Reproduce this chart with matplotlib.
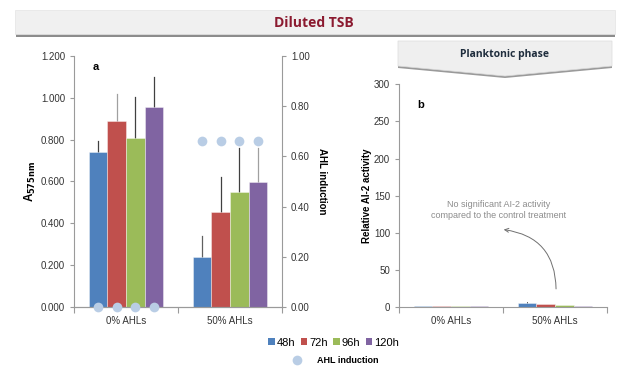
import matplotlib
matplotlib.use("Agg")
import matplotlib.pyplot as plt
from matplotlib.patches import FancyBboxPatch, Polygon
import numpy as np

plt.rcParams.update({
    "font.family": ["Liberation Sans", "DejaVu Sans"],
    "font.size": 7,
    "axes.edgecolor": "#9a9a9a",
    "axes.linewidth": 0.8,
    "xtick.color": "#9a9a9a",
    "ytick.color": "#9a9a9a",
    "xtick.labelcolor": "#333333",
    "ytick.labelcolor": "#333333",
})

# ---- data -------------------------------------------------------------------
groups = ["0% AHLs", "50% AHLs"]
times = ["48h", "72h", "96h", "120h"]
colors = ["#4F81BD", "#C0504D", "#9BBB59", "#8064A2"]

# panel a: biofilm absorbance (A575nm), rows = time, cols = group
a_mean = [[0.739, 0.238],
          [0.890, 0.455],
          [0.806, 0.550],
          [0.954, 0.599]]
a_err = [[0.056, 0.102],
         [0.127, 0.168],
         [0.195, 0.208],
         [0.143, 0.159]]
err_col = [["#404040", "#606060"],
           ["#a0a0a0", "#404040"],
           ["#404040", "#404040"],
           ["#404040", "#a0a0a0"]]
ahl_induction = [[0.0, 0.66],
                 [0.0, 0.66],
                 [0.0, 0.66],
                 [0.0, 0.66]]

# panel b: relative AI-2 activity
b_mean = [[1.6, 5.5],
          [1.3, 4.5],
          [1.3, 3.0],
          [1.3, 2.0]]
b_err = [[0.3, 1.5],
         [0.2, 0.5],
         [0.2, 0.3],
         [0.2, 0.3]]

DOT = "#B9CDE5"
W = 0.18
offs = (np.arange(4) - 1.5) * W
x = np.arange(len(groups))

fig = plt.figure(figsize=(6.28, 3.67), dpi=100)
fig.patch.set_facecolor("white")


def base_axis(ax):
    ax.set_xlim(-0.5, 1.5)
    ax.spines["top"].set_visible(False)
    ax.spines["right"].set_visible(False)
    ax.set_xticks([-0.5, 0.5, 1.5])
    ax.set_xticklabels([])
    ax.set_xticks(x, minor=True)
    ax.set_xticklabels(groups, minor=True, fontsize=7)
    ax.tick_params(axis="x", which="major", length=4, direction="out")
    ax.tick_params(axis="x", which="minor", length=0, pad=6)
    ax.tick_params(axis="y", length=3, direction="out", labelsize=7)


# ---- panel a ----------------------------------------------------------------
ax1 = fig.add_axes([0.1178, 0.1627, 0.3312, 0.6855])
for i in range(4):
    for j in range(2):
        xp = x[j] + offs[i]
        ax1.bar(xp, a_mean[i][j], W, color=colors[i],
                edgecolor=(1, 1, 1, 0.45), linewidth=0.6, zorder=2)
        ax1.plot([xp, xp], [a_mean[i][j], a_mean[i][j] + a_err[i][j]],
                 color=err_col[i][j], lw=0.9, zorder=1)
ax1.set_ylim(0, 1.2)
ax1.set_yticks(np.arange(0, 1.21, 0.2))
ax1.set_yticklabels([f"{v:.3f}" for v in np.arange(0, 1.21, 0.2)])
base_axis(ax1)
ax1.set_ylabel(r"A$_{\mathbf{575nm}}$", fontsize=8.5, fontweight="bold", labelpad=2)
ax1.text(0.09, 0.975, "a", transform=ax1.transAxes, fontsize=8,
         fontweight="bold", va="top")

ax1r = ax1.twinx()
for i in range(4):
    ax1r.plot(x + offs[i], ahl_induction[i], "o", color=DOT, ms=7,
              mec="none", clip_on=False, zorder=5)
ax1r.set_ylim(0, 1.0)
ax1r.set_yticks(np.arange(0, 1.01, 0.2))
ax1r.set_yticklabels([f"{v:.2f}" for v in np.arange(0, 1.01, 0.2)])
ax1r.spines["top"].set_visible(False)
ax1r.spines["left"].set_visible(False)
ax1r.tick_params(axis="y", length=3, direction="out", labelsize=7)
ax1r.set_ylabel("AHL induction", fontsize=7, fontweight="bold",
                rotation=270, labelpad=12)

# ---- panel b ----------------------------------------------------------------
ax2 = fig.add_axes([0.6354, 0.1627, 0.3312, 0.6076])
for i in range(4):
    for j in range(2):
        xp = x[j] + offs[i]
        ax2.bar(xp, b_mean[i][j], W, color=colors[i],
                edgecolor=(1, 1, 1, 0.45), linewidth=0.6, zorder=2)
        ax2.plot([xp, xp], [b_mean[i][j], b_mean[i][j] + b_err[i][j]],
                 color="#606060", lw=0.7, zorder=1)
ax2.set_ylim(0, 300)
ax2.set_yticks(np.arange(0, 301, 50))
base_axis(ax2)
ax2.set_ylabel("Relative AI-2 activity", fontsize=7, fontweight="bold", labelpad=1)
ax2.text(0.09, 0.93, "b", transform=ax2.transAxes, fontsize=8,
         fontweight="bold", va="top")
ax2.text(0.46, 131, "No significant AI-2 activity\ncompared to the control treatment",
         ha="center", va="center", color="#8c8c8c", fontsize=6.5, linespacing=1.3)
ax2.annotate("", xy=(0.48, 105), xytext=(1.01, 21),
             arrowprops=dict(arrowstyle="->", color="#707070", lw=0.7,
                             connectionstyle="arc3,rad=0.45"))

# ---- header banners ---------------------------------------------------------
shadow = FancyBboxPatch((0.025, 0.898), 0.955, 0.066, boxstyle="square,pad=0",
                        transform=fig.transFigure, fc="#8c8c8c", ec="none")
fig.patches.append(shadow)
banner = FancyBboxPatch((0.024, 0.906), 0.955, 0.066, boxstyle="square,pad=0",
                        transform=fig.transFigure, fc="#f0f0f0", ec="#e4e4e4", lw=0.5)
fig.patches.append(banner)
fig.text(0.5, 0.937, "Diluted TSB", ha="center", va="center", fontsize=10,
         fontweight="bold", color="#8B1A30", family=["Open Sans", "DejaVu Sans"])

px = lambda xp, yp: (xp / 628, 1 - yp / 367)
chev_sh = Polygon([px(398, 43), px(612, 43), px(612, 68), px(505, 78), px(398, 68)],
                  closed=True, transform=fig.transFigure, fc="#9a9a9a", ec="none")
chev = Polygon([px(398, 41), px(612, 41), px(612, 66), px(505, 76), px(398, 66)],
               closed=True, transform=fig.transFigure, fc="#efefef", ec="#dcdcdc", lw=0.5)
fig.patches.append(chev_sh)
fig.patches.append(chev)
fig.text(505 / 628, 1 - 55 / 367, "Planktonic phase", ha="center", va="center",
         fontsize=7.5, fontweight="bold", color="#1f2d3d", family=["Open Sans", "DejaVu Sans"])

# ---- legend -----------------------------------------------------------------
handles = [plt.Rectangle((0, 0), 1, 1, fc=c, ec="none") for c in colors]
fig.legend(handles, times, loc="center", bbox_to_anchor=(0.531, 0.066), ncol=4,
           frameon=False, fontsize=8, handlelength=0.6, handleheight=0.6,
           handletextpad=0.15, columnspacing=0.5)
dot = plt.Line2D([], [], ls="none", marker="o", ms=7, color=DOT, mec="none")
leg2 = fig.legend([dot], ["AHL induction"], loc="center",
                  bbox_to_anchor=(0.53, 0.017), frameon=False, fontsize=6.5,
                  handletextpad=1.2)
for t in leg2.get_texts():
    t.set_fontweight("bold")

fig.savefig("out.png", dpi=100)
